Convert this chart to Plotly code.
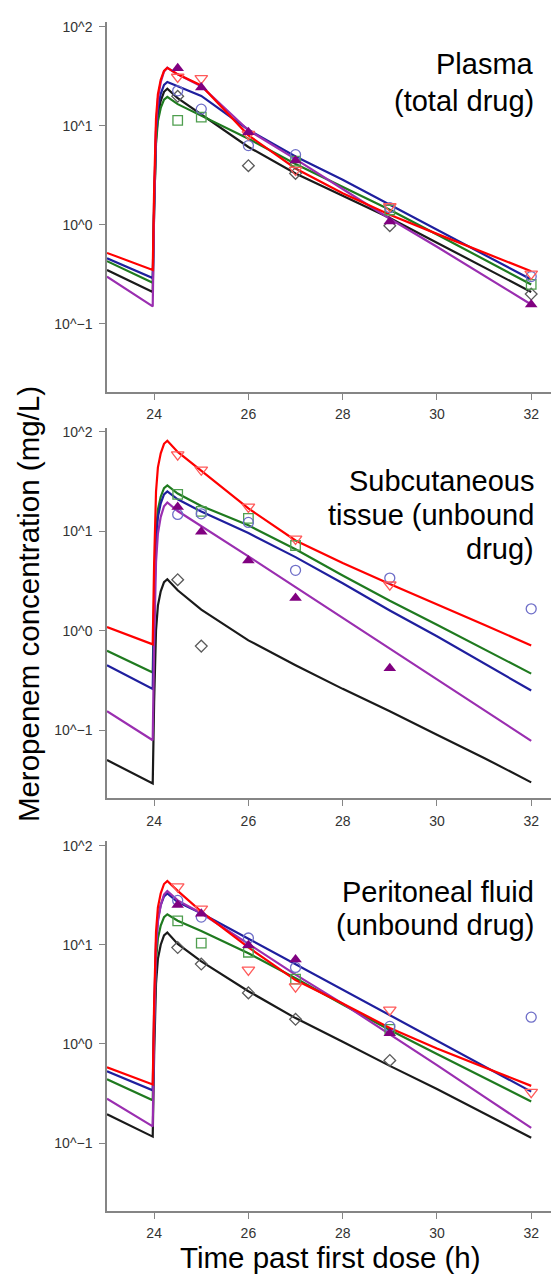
import plotly.graph_objects as go

# ---------------- data ----------------
T_OBS = [24.5, 25, 26, 27, 29, 32]
T_CURVE = [23.0, 23.97, 24.0, 24.04, 24.08, 24.14, 24.21, 24.28, 24.5,
           25, 26, 27, 28, 29, 30, 31, 32]

Y_TICKVALS = [0.1, 1, 10, 100]
Y_TICKTEXT = ["10^\u22121", "10^0", "10^1", "10^2"]
X_TICKVALS = [24, 26, 28, 30, 32]

PANEL_TITLES = [["Plasma", "(total drug)"],
                ["Subcutaneous", "tissue (unbound", "drug)"],
                ["Peritoneal fluid", "(unbound drug)"]]

# Plasma (total drug) - model curves
PL_RED_CURVE = [0.52, 0.35, 2.29, 11.9, 20.8, 29, 35.7, 38.4, 33, 25.5, 8.0, 3.7, 2.08, 1.26, 0.81, 0.525, 0.34]
PL_BLUE_CURVE = [0.46, 0.29, 1.79, 8.8, 15.3, 21, 25.8, 27.6, 25, 20, 9.1, 4.9, 2.85, 1.6, 0.89, 0.5, 0.28]
PL_GREEN_CURVE = [0.43, 0.26, 1.46, 6.6, 11.1, 15.1, 18.3, 19.5, 16.5, 12.7, 7.4, 4.1, 2.4, 1.42, 0.80, 0.45, 0.25]
PL_BLACK_CURVE = [0.35, 0.21, 1.39, 7.25, 12.8, 17.8, 22, 23.6, 19, 13, 6.1, 3.3, 1.96, 1.17, 0.66, 0.37, 0.21]
PL_PURPLE_CURVE = [0.30, 0.15, 1.38, 9.6, 18.7, 27.5, 35.3, 38.4, 33, 25, 9.0, 4.6, 2.3, 1.15, 0.6, 0.31, 0.157]
# Plasma - observations
PL_RED_OBS = [31, 30, 8.2, 3.57, 1.53, 0.32]
PL_BLUE_OBS = [22.5, 14.7, 6.3, 5.1, 1.49, 0.30]
PL_GREEN_OBS = [11.3, 12.2, None, 4.4, 1.41, 0.25]
PL_BLACK_OBS = [19.8, None, 3.95, 3.3, 0.98, 0.20]
PL_PURPLE_OBS = [38, 24.3, 8.6, 4.45, 1.08, 0.157]

# Subcutaneous tissue (unbound drug) - model curves
SC_RED_CURVE = [1.09, 0.73, 4.8, 25, 44, 61, 76, 81.5, 63, 41, 17, 8.1, 4.8, 2.95, 1.85, 1.15, 0.71]
SC_GREEN_CURVE = [0.63, 0.38, 2.15, 9.8, 16.5, 22.3, 27.2, 29, 24, 18, 11.5, 6.6, 3.6, 2.0, 1.15, 0.65, 0.37]
SC_BLUE_CURVE = [0.45, 0.26, 1.62, 8.0, 13.9, 19.1, 23.5, 25.2, 21, 15.8, 9.6, 5.5, 3.0, 1.6, 0.88, 0.47, 0.25]
SC_PURPLE_CURVE = [0.155, 0.079, 0.72, 4.9, 9.5, 14, 17.9, 19.5, 16, 11.2, 5.6, 2.75, 1.35, 0.66, 0.325, 0.16, 0.078]
SC_BLACK_CURVE = [0.050, 0.029, 0.193, 1.01, 1.79, 2.49, 3.08, 3.3, 2.55, 1.63, 0.8, 0.45, 0.26, 0.155, 0.09, 0.0525, 0.0298]
# Subcutaneous - observations
SC_RED_OBS = [59, 41.6, 17.6, 8.4, 2.9, None]
SC_BLUE_OBS = [14.8, 15.0, 12.3, 4.05, 3.39, 1.66]
SC_GREEN_OBS = [23.5, 15.9, 13.5, 7.2, None, None]
SC_BLACK_OBS = [3.26, 0.70, None, None, None, None]
SC_PURPLE_OBS = [17.6, 9.9, 5.1, 2.14, 0.42, None]

# Peritoneal fluid (unbound drug) - model curves
PF_RED_CURVE = [0.58, 0.39, 2.58, 13.5, 23.8, 33, 41, 44, 35, 21.6, 9.4, 4.4, 2.55, 1.45, 0.9, 0.58, 0.377]
PF_BLUE_CURVE = [0.53, 0.34, 2.12, 10.5, 18.2, 25.1, 30.8, 33, 27, 20.8, 11.5, 6.37, 3.52, 1.95, 1.08, 0.6, 0.33]
PF_GREEN_CURVE = [0.44, 0.27, 1.52, 6.9, 11.6, 15.6, 19, 20.3, 17.5, 13.8, 8.2, 4.6, 2.5, 1.38, 0.79, 0.455, 0.262]
PF_PURPLE_CURVE = [0.28, 0.147, 1.31, 8.9, 17.1, 25.1, 32.1, 34.9, 28, 20.8, 10.2, 5.0, 2.55, 1.26, 0.61, 0.294, 0.142]
PF_BLACK_CURVE = [0.195, 0.116, 0.77, 4.06, 7.2, 10, 12.4, 13.3, 10.2, 6.8, 3.4, 1.82, 1.05, 0.6, 0.35, 0.2, 0.113]
# Peritoneal fluid - observations
PF_RED_OBS = [38.5, 23, 5.57, 3.78, 2.2, 0.326]
PF_BLUE_OBS = [28, 19, 11.7, 5.9, 1.5, 1.86]
PF_GREEN_OBS = [17.4, 10.4, 8.4, 4.5, 1.4, None]
PF_BLACK_OBS = [9.36, 6.38, 3.27, 1.77, 0.68, None]
PF_PURPLE_OBS = [25.2, 20.5, 9.9, 7.1, 1.28, None]

# ---------------- styles ----------------
FONT = "Liberation Sans, Arial, Helvetica, sans-serif"
W, H = 551, 1275
AX_COLOR = "#858585"

LINE_COLORS = {"red": "#ff0000", "blue": "#1f1f9e", "green": "#1f7a1f",
               "black": "#1a1a1a", "purple": "#9a2eb0"}
MARKERS = {
    "red": dict(symbol="triangle-down-open", color="#ff5a5a", size=11, line=dict(width=1.3, color="#ff5a5a")),
    "blue": dict(symbol="circle-open", color="#6e6ec8", size=10, line=dict(width=1.3, color="#6e6ec8")),
    "green": dict(symbol="square-open", color="#4e9e4e", size=9.5, line=dict(width=1.3, color="#4e9e4e")),
    "black": dict(symbol="diamond-open", color="#5a5a5a", size=9, line=dict(width=1.3, color="#5a5a5a")),
    "purple": dict(symbol="triangle-up", color="#800080", size=11, line=dict(width=0)),
}

PANELS = [
    dict(curves={"red": PL_RED_CURVE, "blue": PL_BLUE_CURVE, "green": PL_GREEN_CURVE,
                 "black": PL_BLACK_CURVE, "purple": PL_PURPLE_CURVE},
         obs={"red": PL_RED_OBS, "blue": PL_BLUE_OBS, "green": PL_GREEN_OBS,
              "black": PL_BLACK_OBS, "purple": PL_PURPLE_OBS},
         top=18.3, bottom=389.0, title_mid=[60.5, 97.5]),
    dict(curves={"red": SC_RED_CURVE, "blue": SC_BLUE_CURVE, "green": SC_GREEN_CURVE,
                 "black": SC_BLACK_CURVE, "purple": SC_PURPLE_CURVE},
         obs={"red": SC_RED_OBS, "blue": SC_BLUE_OBS, "green": SC_GREEN_OBS,
              "black": SC_BLACK_OBS, "purple": SC_PURPLE_OBS},
         top=424.9, bottom=796.7, title_mid=[478.5, 512.5, 547.0]),
    dict(curves={"red": PF_RED_CURVE, "blue": PF_BLUE_CURVE, "green": PF_GREEN_CURVE,
                 "black": PF_BLACK_CURVE, "purple": PF_PURPLE_CURVE},
         obs={"red": PF_RED_OBS, "blue": PF_BLUE_OBS, "green": PF_GREEN_OBS,
              "black": PF_BLACK_OBS, "purple": PF_PURPLE_OBS},
         top=839.9, bottom=1210.7, title_mid=[890.5, 924.0]),
]

LINE_ORDER = ["black", "green", "blue", "purple", "red"]
MARKER_ORDER = ["black", "green", "blue", "red", "purple"]

fig = go.Figure()
layout = dict(width=W, height=H, margin=dict(l=0, r=0, t=0, b=0),
              paper_bgcolor="white", plot_bgcolor="white", showlegend=False,
              font=dict(family=FONT, color="black"))
annotations = []

for i, p in enumerate(PANELS):
    sfx = "" if i == 0 else str(i + 1)
    xref, yref = "x" + sfx, "y" + sfx
    for c in LINE_ORDER:
        fig.add_trace(go.Scatter(x=T_CURVE, y=p["curves"][c], mode="lines",
                                 line=dict(color=LINE_COLORS[c], width=2.2),
                                 xaxis=xref, yaxis=yref, hoverinfo="skip"))
    for c in MARKER_ORDER:
        xs = [t for t, v in zip(T_OBS, p["obs"][c]) if v is not None]
        ys = [v for v in p["obs"][c] if v is not None]
        fig.add_trace(go.Scatter(x=xs, y=ys, mode="markers", marker=MARKERS[c],
                                 xaxis=xref, yaxis=yref, cliponaxis=False))
    dom = [1 - p["bottom"] / H, 1 - p["top"] / H]
    layout["xaxis" + sfx] = dict(
        domain=[107 / W, 1.0], range=[23.0, 32.42], anchor=yref,
        tickvals=X_TICKVALS, ticks="outside", ticklen=6, tickwidth=1.3,
        tickcolor=AX_COLOR, showline=True, linecolor=AX_COLOR, linewidth=1.5,
        showgrid=False, zeroline=False, ticklabelstandoff=3,
        tickfont=dict(size=14, color="#333333", family=FONT))
    layout["yaxis" + sfx] = dict(
        domain=dom, type="log", range=[-1.685, 2.044], anchor=xref,
        tickvals=Y_TICKVALS, ticktext=Y_TICKTEXT, ticks="outside", ticklen=6,
        tickwidth=1.3, tickcolor=AX_COLOR, showline=True, linecolor=AX_COLOR,
        linewidth=1.5, showgrid=False, zeroline=False, ticklabelstandoff=4,
        tickfont=dict(size=14, color="#333333", family=FONT))
    for text, ymid in zip(PANEL_TITLES[i], p["title_mid"]):
        annotations.append(dict(text=text, xref="paper", yref="paper",
                                x=536 / W, y=1 - ymid / H, xanchor="right",
                                yanchor="middle", showarrow=False,
                                font=dict(size=29, family=FONT, color="black")))

annotations.append(dict(text="Meropenem concentration (mg/L)", xref="paper", yref="paper",
                        x=28 / W, y=1 - 602 / H, xanchor="center", yanchor="middle",
                        textangle=-90, showarrow=False,
                        font=dict(size=29.5, family=FONT, color="black")))
annotations.append(dict(text="Time past first dose (h)", xref="paper", yref="paper",
                        x=330 / W, y=1 - 1257 / H, xanchor="center", yanchor="middle",
                        showarrow=False, font=dict(size=29.5, family=FONT, color="black")))
layout["annotations"] = annotations
fig.update_layout(**layout)
fig.write_html("out.html",
               config={"displayModeBar": False},
               post_script="document.body.style.margin='0px';document.body.style.padding='0px';"
                           "document.body.style.overflow='hidden';"
                           "document.documentElement.style.overflow='hidden';")
